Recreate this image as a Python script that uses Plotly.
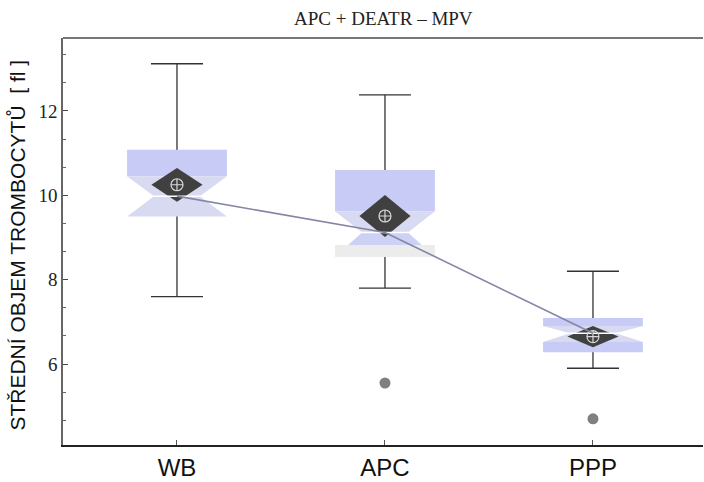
import plotly.graph_objects as go

# ---- data ----
categories = ["WB", "APC", "PPP"]
positions = [1, 2, 3]
whisker_low = [7.6, 7.8, 5.9]
q1 = [9.5, 8.82, 6.28]
median = [9.98, 9.12, 6.73]
q3 = [11.08, 10.6, 7.09]
whisker_high = [13.12, 12.38, 8.2]
notch_low = [9.5, 8.54, 6.52]
notch_high = [10.45, 9.62, 6.9]
mean = [10.25, 9.51, 6.65]
mean_ci = [0.4, 0.5, 0.25]
outlier_x = ["APC", "PPP"]
outlier_y = [5.55, 4.7]
y_ticks = [6, 8, 10, 12]

# ---- style ----
BOX_HW = 0.24
NOTCH_HW = 0.11
CAP_HW = 0.125
DIA_HW = 0.123
DARK_LAV = "#c7cbf5"
LIGHT_LAV = "#d7daf1"
GRAY_FILL = "#ececec"

fig = go.Figure()

def poly(xs, ys, color):
    fig.add_trace(go.Scatter(x=xs + [xs[0]], y=ys + [ys[0]], mode="lines", fill="toself",
                             fillcolor=color, line=dict(width=0, color=color),
                             hoverinfo="skip", showlegend=False))

# whiskers
for i, p in enumerate(positions):
    fig.add_trace(go.Scatter(x=[p, p], y=[whisker_low[i], whisker_high[i]], mode="lines",
                             line=dict(color="#333333", width=1.3), showlegend=False, hoverinfo="skip"))
    for w in (whisker_low[i], whisker_high[i]):
        fig.add_trace(go.Scatter(x=[p - CAP_HW, p + CAP_HW], y=[w, w], mode="lines",
                                 line=dict(color="#333333", width=1.3), showlegend=False, hoverinfo="skip"))

def hw_at(y, m, n_end):
    f = (y - m) / (n_end - m) if n_end != m else 1
    return NOTCH_HW + (BOX_HW - NOTCH_HW) * f

for i, p in enumerate(positions):
    L, R = p - BOX_HW, p + BOX_HW
    poly([L, R, R, L], [q3[i], q3[i], notch_high[i], notch_high[i]], DARK_LAV)
    poly([L, R, p + NOTCH_HW, p - NOTCH_HW],
         [notch_high[i], notch_high[i], median[i], median[i]], LIGHT_LAV)
    if notch_low[i] < q1[i]:
        hw = hw_at(q1[i], median[i], notch_low[i])
        poly([p - NOTCH_HW, p + NOTCH_HW, p + hw, p - hw],
             [median[i], median[i], q1[i], q1[i]], "#cdd1f3")
        poly([L, R, R, L], [q1[i], q1[i], notch_low[i], notch_low[i]], GRAY_FILL)
    else:
        poly([p - NOTCH_HW, p + NOTCH_HW, R, L],
             [median[i], median[i], notch_low[i], notch_low[i]], LIGHT_LAV)
        if notch_low[i] > q1[i]:
            poly([L, R, R, L], [notch_low[i], notch_low[i], q1[i], q1[i]], DARK_LAV)

# mean diamonds
for i, p in enumerate(positions):
    poly([p, p + DIA_HW, p, p - DIA_HW],
         [mean[i] + mean_ci[i], mean[i], mean[i] - mean_ci[i], mean[i]], "#404040")

# median white lines
for i, p in enumerate(positions):
    fig.add_trace(go.Scatter(x=[p - NOTCH_HW - 0.02, p + NOTCH_HW + 0.02], y=[median[i], median[i]],
                             mode="lines", line=dict(color="white", width=1.5),
                             showlegend=False, hoverinfo="skip"))

# mean markers
fig.add_trace(go.Scatter(x=positions, y=mean, mode="markers",
                         marker=dict(symbol="circle-cross-open", size=12, color="#d8d8d8",
                                     line=dict(width=1.2, color="#d8d8d8")),
                         showlegend=False, hoverinfo="skip"))

# median connecting line
fig.add_trace(go.Scatter(x=positions, y=median, mode="lines",
                         line=dict(color="#8585a8", width=1.6), showlegend=False, hoverinfo="skip"))

# outliers
ox = [positions[categories.index(c)] for c in outlier_x]
fig.add_trace(go.Scatter(x=ox, y=outlier_y, mode="markers",
                         marker=dict(size=11, color="#808080"), showlegend=False, hoverinfo="skip"))

fig.update_layout(
    width=704, height=482,
    margin=dict(l=63, r=1, t=38, b=37),
    paper_bgcolor="white", plot_bgcolor="white",
    showlegend=False,
    xaxis=dict(range=[0.452, 3.529], tickvals=positions, ticktext=categories,
               showgrid=False, zeroline=False, showline=True, linecolor="#222222", linewidth=2,
               ticks="inside", ticklen=5, tickcolor="#555555",
               tickfont=dict(family="Liberation Sans", size=24, color="#111111")),
    yaxis=dict(range=[4.08, 13.73], tickvals=y_ticks,
               showgrid=False, zeroline=False, showline=True, linecolor="#666666", linewidth=1.5,
               ticks="inside", ticklen=5, tickcolor="#444444",
               minor=dict(ticks="inside", ticklen=3, dtick=2/3, tick0=0, tickcolor="#666666"),
               tickfont=dict(family="Liberation Serif", size=19, color="#222222")),
    shapes=[dict(type="line", xref="paper", yref="paper", x0=0, x1=1, y0=1, y1=1,
                 line=dict(color="#777777", width=2))],
    annotations=[
        dict(text="APC + DEATR – MPV", xref="paper", yref="paper", x=0.5, y=1.0, yshift=20,
             xanchor="center", yanchor="middle", showarrow=False,
             font=dict(family="Liberation Serif", size=19, color="#222222")),
        dict(text="STŘEDNÍ OBJEM TROMBOCYTŮ  [ fl ]", xref="paper", yref="paper",
             x=-0.0703, y=0.49, xanchor="center", yanchor="middle", textangle=-90,
             showarrow=False, font=dict(family="Liberation Sans", size=21, color="#111111")),
    ],
)

fig.write_html("out.html")
